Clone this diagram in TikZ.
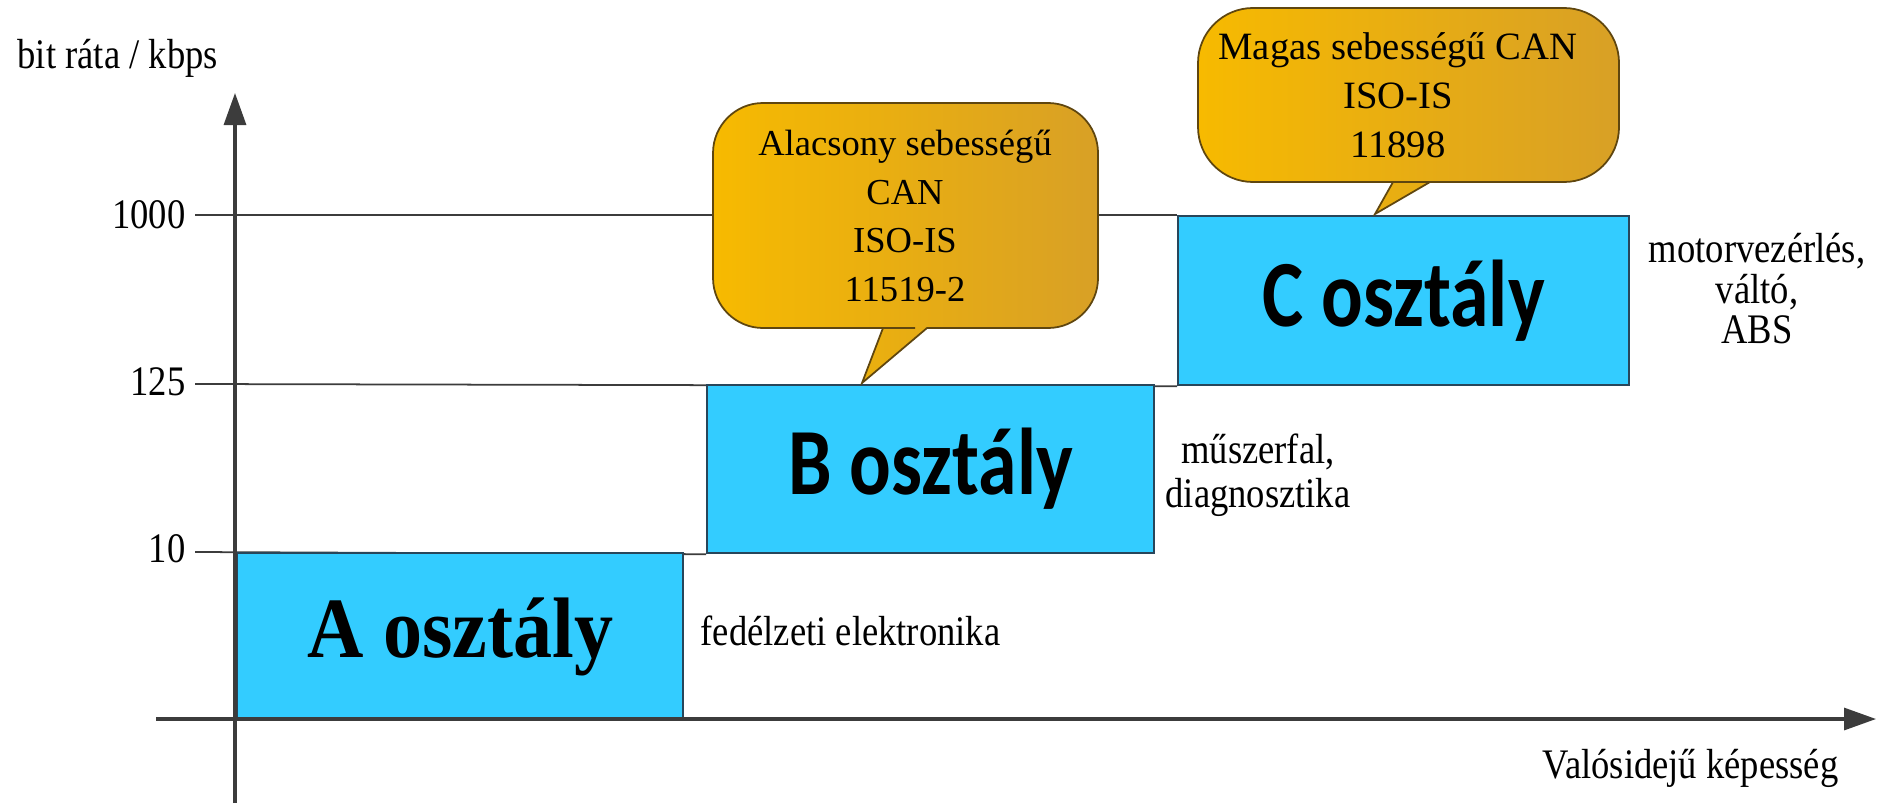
\documentclass[tikz,border=0pt]{standalone}
\usepackage{fontspec}
\usepackage{graphicx}
\setmainfont{Liberation Serif}
\newfontfamily\calibrifont{Carlito}
\usetikzlibrary{arrows.meta}

\definecolor{boxfill}{RGB}{51,204,255}
\definecolor{boxline}{RGB}{40,70,90}
\definecolor{axisgray}{RGB}{60,60,60}
\definecolor{bubL}{RGB}{247,186,0}
\definecolor{bubR}{RGB}{216,160,38}
\definecolor{bubline}{RGB}{95,70,15}

\pgfdeclarelayer{back}
\pgfsetlayers{back,main}

% vertical stretch of a piece of text
\newcommand\vst[2]{\scalebox{1}[#1]{#2}}

\begin{document}
\begin{tikzpicture}[x=0.01cm,y=-0.01cm,
  axis/.style={draw=axisgray, line width=0.9pt, -{Triangle[length=0.32cm,width=0.22cm]}},
  level/.style={draw=axisgray, line width=0.5pt},
  clsbox/.style={draw=boxline, fill=boxfill, line width=0.6pt, inner sep=0, anchor=north west},
  lbl/.style={inner sep=0, font=\fontsize{10.4}{12}\selectfont},
  bubble/.style={draw=bubline, line width=0.5pt, left color=bubL, right color=bubR},
  bubtext/.style={inner sep=0, align=center}
]
\useasboundingbox (0,0) rectangle (1877,803);

% axes
\coordinate (ybot) at (235,803);
\coordinate (ytop) at (235,93);
\coordinate (xleft) at (156,719);
\coordinate (xright) at (1876,719);

% start points of the level lines
\coordinate (t1000) at (195,215);
\coordinate (t125) at (195,384);
\coordinate (t10) at (195,552);

% class boxes
\node[clsbox, minimum width=4.46cm, minimum height=1.67cm] (A) at (236,552)
  {\vst{1.1}{\fontsize{22.2}{26}\selectfont\bfseries A osztály}\hspace{0.06cm}};
\node[clsbox, minimum width=4.47cm, minimum height=1.68cm] (B) at (706,384)
  {\vst{1.22}{\calibrifont\fontsize{22.1}{26}\selectfont\bfseries B osztály}};
\node[clsbox, minimum width=4.51cm, minimum height=1.69cm] (C) at (1177,215)
  {\vst{1.22}{\calibrifont\fontsize{22.1}{26}\selectfont\bfseries C osztály}\hspace{0.06cm}};

% level lines, behind the boxes
\begin{pgfonlayer}{back}
\draw[level] (t1000) -- (C.north west);
\draw[level] (t125) -- (C.south west);
\draw[level] (t10) -- (B.south west);
\end{pgfonlayer}

\draw[axis] (ybot) -- (ytop);
\draw[axis] (xleft) -- (xright);

% axis labels
\node[lbl, anchor=base west] (ylab) at (17,68) {\vst{1.15}{bit ráta / kbps}};
\node[lbl, anchor=base west] (xlab) at (1542,778) {\vst{1.15}{Valósidejű képesség}};
\node[lbl, anchor=base east] (l1000) at (186,228) {\vst{1.15}{1000}};
\node[lbl, anchor=base east] (l125) at (186,395) {\vst{1.15}{125}};
\node[lbl, anchor=base east] (l10) at (186,562) {\vst{1.15}{10}};

% application areas
\node[lbl, anchor=base west] (adesc) at (700,645) {\vst{1.15}{fedélzeti elektronika}};
\node[lbl, anchor=base, font=\fontsize{10.4}{10.9}\selectfont] (bdesc) at (1258,463)
  {\vst{1.15}{\begin{tabular}[t]{@{}c@{}}műszerfal,\\diagnosztika\end{tabular}}};
\node[lbl, anchor=base, font=\fontsize{10.4}{9.9}\selectfont] (cdesc) at (1757,262)
  {\vst{1.15}{\begin{tabular}[t]{@{}c@{}}motorvezérlés,\\váltó,\\ABS\end{tabular}}};

% speech bubbles
\path[bubble] (883,328) -- (862,383) -- (927,328) -- (945,328) [rounded corners=0.5cm]
  -- (1098,328) -- (1098,103) -- (713,103) -- (713,328) -- (865,328) [sharp corners] -- cycle;
\node[bubtext, font=\fontsize{10.4}{13.9}\selectfont] (lowcan) at (905,216)
  {Alacsony sebességű\\CAN\\ISO-IS\\11519-2};

\path[bubble] (1393,182) -- (1375,214) -- (1430,182) -- (1450,182) [rounded corners=0.55cm]
  -- (1619,182) -- (1619,8) -- (1198,8) -- (1198,182) -- (1375,182) [sharp corners] -- cycle;
\node[bubtext, font=\fontsize{11}{13.9}\selectfont] (highcan) at (1398,95)
  {Magas sebességű CAN\\ISO-IS\\11898};
\end{tikzpicture}
\end{document}
